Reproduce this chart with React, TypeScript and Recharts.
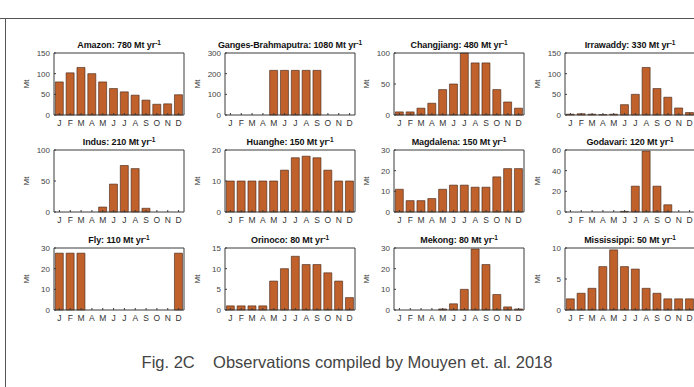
import React from 'react';
import { BarChart, Bar, XAxis, YAxis } from 'recharts';

const months = ['J', 'F', 'M', 'A', 'M', 'J', 'J', 'A', 'S', 'O', 'N', 'D'];

// monthly sediment load, Mt
const amazon = [80, 102, 115, 100, 80, 64, 56, 48, 36, 26, 27, 49];
const ganges = [0, 0, 0, 0, 216, 216, 216, 216, 216, 0, 0, 0];
const changjiang = [5, 5, 11, 19, 41, 50, 100, 84, 84, 41, 21, 11];
const irrawaddy = [2, 3, 2, 1, 2, 25, 50, 115, 64, 43, 17, 6];
const indus = [0, 0, 0, 0, 8, 45, 75, 70, 6, 0, 0, 0];
const huanghe = [10, 10, 10, 10, 10, 13.5, 17.5, 18, 17.5, 13.5, 10, 10];
const magdalena = [11, 5.5, 5.5, 6.5, 11, 13, 13, 12, 12, 17, 21, 21];
const godavari = [0, 0, 0, 0, 0, 0.6, 25, 59, 25, 7, 0, 0];
const fly = [27.5, 27.5, 27.5, 0, 0, 0, 0, 0, 0, 0, 0, 27.5];
const orinoco = [1, 1, 1, 1, 7, 10, 13, 11, 11, 9, 7, 3];
const mekong = [0, 0, 0, 0, 0.5, 3, 10, 29.5, 22, 7.5, 1.5, 0.5];
const mississippi = [1.8, 2.7, 3.5, 7, 9.7, 7, 6.6, 3.5, 2.7, 1.8, 1.8, 1.8];

const rivers = ['Amazon', 'Ganges-Brahmaputra', 'Changjiang', 'Irrawaddy', 'Indus', 'Huanghe', 'Magdalena', 'Godavari', 'Fly', 'Orinoco', 'Mekong', 'Mississippi'];
const totals = [780, 1080, 480, 330, 210, 150, 150, 120, 110, 80, 80, 50];
const series = [amazon, ganges, changjiang, irrawaddy, indus, huanghe, magdalena, godavari, fly, orinoco, mekong, mississippi];
const yTicks = [
  [0, 50, 100, 150], [0, 100, 200, 300], [0, 50, 100], [0, 50, 100, 150],
  [0, 50, 100], [0, 10, 20], [0, 10, 20, 30], [0, 20, 40, 60],
  [0, 10, 20, 30], [0, 5, 10, 15], [0, 10, 20, 30], [0, 5, 10],
];

const colLeft = [54, 225, 394, 565];
const rowTop = [53, 150, 248];
const PLOT_W = 130;
const PLOT_H = 62;
const LEFT = 46;
const TOP = 14;
const BOTTOM = 18;

const FONT = '"Liberation Sans", Arial, sans-serif';
const BAR_FILL = '#c0602b';
const BAR_STROKE = '#3e2416';
const AXIS = '#3a3a3a';

const RiverChart = ({ index }: { index: number }) => {
  const values = series[index];
  const ticks = yTicks[index];
  const maxY = ticks[ticks.length - 1];
  const data = months.map((m, i) => ({ idx: i, month: m, value: values[i] }));
  const x = colLeft[index % 4];
  const y = rowTop[Math.floor(index / 4)];

  return (
    <div style={{ position: 'absolute', left: x - LEFT, top: y - TOP }}>
      <div
        style={{
          position: 'absolute', left: LEFT - 20, width: PLOT_W + 40, top: 1, textAlign: 'center',
          fontSize: 9, lineHeight: '10px', fontWeight: 'bold', whiteSpace: 'nowrap', color: '#111', fontFamily: FONT,
          letterSpacing: -0.1,
        }}
      >
        {rivers[index]}: {totals[index]} Mt yr<sup style={{ fontSize: 6.5, verticalAlign: 3, lineHeight: 0 }}>-1</sup>
      </div>
      <div
        style={{
          position: 'absolute', left: LEFT - 31, top: TOP + PLOT_H / 2 - 5, fontSize: 8, color: '#333',
          fontFamily: FONT, transform: 'rotate(-90deg)', transformOrigin: '50% 50%', lineHeight: '10px',
        }}
      >
        Mt
      </div>
      <BarChart
        width={LEFT + PLOT_W + 1}
        height={TOP + PLOT_H + BOTTOM}
        data={data}
        margin={{ top: TOP - 1, right: 0, bottom: 0, left: 0 }}
        barCategoryGap="12%"
      >
        <XAxis
          dataKey="idx"
          type="category"
          height={BOTTOM}
          interval={0}
          tickFormatter={(i: number) => months[i]}
          tick={{ fontSize: 8.5, fill: '#333', fontFamily: FONT }}
          tickSize={-2}
          tickMargin={7}
          stroke={AXIS}
        />
        <XAxis xAxisId="top" dataKey="idx" type="category" orientation="top" height={1} interval={0} tick={false} tickSize={-2} stroke={AXIS} />
        <YAxis
          width={LEFT}
          domain={[0, maxY]}
          ticks={ticks}
          interval={0}
          tick={{ fontSize: 8, fill: '#444', fontFamily: FONT }}
          tickSize={-2}
          tickMargin={6}
          stroke={AXIS}
        />
        <YAxis yAxisId="right" orientation="right" width={1} domain={[0, maxY]} ticks={ticks} tick={false} tickSize={-2} stroke={AXIS} />
        <Bar dataKey="value" fill={BAR_FILL} stroke={BAR_STROKE} strokeWidth={0.6} isAnimationActive={false} />
      </BarChart>
    </div>
  );
};

export default function App() {
  return (
    <div
      style={{
        position: 'absolute', left: 0, top: 0, width: 694, height: 387, overflow: 'hidden',
        background: '#fff', fontFamily: FONT,
      }}
    >
      <div style={{ position: 'absolute', left: 0, top: 18, width: 694, height: 1, background: '#555' }} />
      <div style={{ position: 'absolute', left: 5, top: 18, width: 1, height: 369, background: '#555' }} />
      {series.map((_, i) => (
        <RiverChart key={rivers[i]} index={i} />
      ))}
      <div
        style={{
          position: 'absolute', left: 0, width: 694, top: 353, textAlign: 'center', fontSize: 16.5,
          color: '#444', whiteSpace: 'pre',
        }}
      >
        {'Fig. 2C    Observations compiled by Mouyen et. al. 2018'}
      </div>
    </div>
  );
}
